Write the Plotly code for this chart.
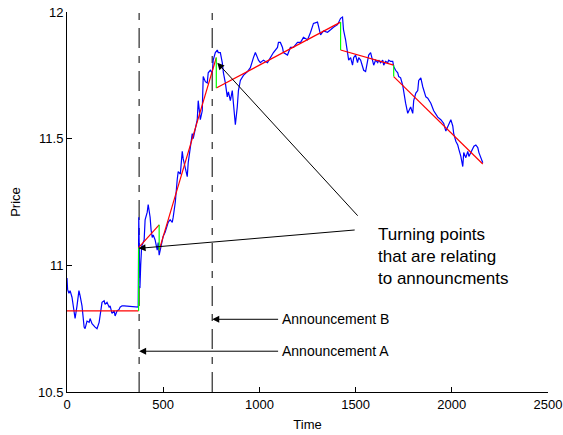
import plotly.graph_objects as go

# ---- price series ----
time = [0, 3, 10, 16, 26, 36, 42, 52, 62, 68, 78, 89, 94, 104, 115, 120, 130, 146, 156, 167,
        172, 182, 193, 198, 208, 219, 224, 234, 245, 250, 260, 271, 276, 286, 297, 370,
        373, 376, 379, 383, 388, 396, 401, 406, 417, 422, 427, 432, 437, 443, 448, 458, 469,
        474, 479, 490, 495, 500, 510, 521, 526, 536, 547, 552,
        563, 573, 578, 589, 599, 604, 615, 625, 630, 641, 651, 656, 667, 677, 682, 693, 703,
        708, 719, 729, 734, 745, 755, 760, 771, 781,
        786, 797, 807, 813, 823, 833, 839, 849, 859, 865, 875, 885, 891, 901, 911, 917, 938,
        953, 969, 979, 990, 995, 1005, 1021, 1042, 1057, 1073, 1094, 1099, 1109, 1120, 1125,
        1146, 1161, 1177, 1198, 1214, 1229, 1250, 1266, 1281, 1302, 1307, 1318, 1333, 1354,
        1370, 1385, 1406, 1422, 1432,
        1437, 1448, 1458, 1464, 1474, 1484, 1490, 1500, 1510, 1516, 1526, 1536, 1542, 1552,
        1563, 1568, 1578, 1589, 1594, 1604, 1615, 1620, 1630, 1641, 1646, 1656, 1667, 1672,
        1682, 1693, 1698, 1708, 1719, 1724, 1734, 1745, 1750, 1760, 1771, 1776, 1786, 1797,
        1802, 1813, 1823, 1828, 1839, 1849, 1854, 1865, 1875, 1891, 1906, 1927, 1943, 1958,
        1969, 1979, 1984, 1995, 2005, 2010, 2021, 2031, 2036, 2047, 2057, 2062, 2073, 2083,
        2089, 2099, 2109, 2115, 2125, 2135, 2141, 2151, 2161]
price = [10.95, 10.905, 10.89, 10.90, 10.874, 10.815, 10.79, 10.84, 10.90, 10.88, 10.84, 10.756,
         10.75, 10.78, 10.775, 10.79, 10.77, 10.756, 10.75, 10.775, 10.80, 10.854, 10.86, 10.846,
         10.854, 10.835, 10.84, 10.81, 10.82, 10.80, 10.82, 10.826, 10.835, 10.84, 10.84, 10.835,
         11.19, 11.07, 10.91, 11.0, 11.075, 11.09, 11.10, 11.18, 11.21, 11.24, 11.22, 11.19,
         11.14, 11.11, 11.12, 11.10, 11.06, 11.09, 11.04, 11.075, 11.095, 11.115, 11.13, 11.155,
         11.17, 11.18, 11.17, 11.19,
         11.25, 11.34, 11.37, 11.36, 11.45, 11.42, 11.38, 11.35, 11.405, 11.47, 11.52, 11.50,
         11.535, 11.575, 11.65, 11.575, 11.61, 11.745, 11.725, 11.72, 11.76, 11.77, 11.76, 11.81,
         11.84, 11.85,
         11.84, 11.84, 11.80, 11.76, 11.72, 11.665, 11.685, 11.65, 11.69, 11.625, 11.555, 11.625,
         11.69, 11.73, 11.745, 11.75, 11.765, 11.78, 11.82, 11.84, 11.82, 11.81, 11.80, 11.81,
         11.80, 11.82, 11.84, 11.86, 11.88, 11.88, 11.86, 11.84, 11.83, 11.86, 11.86, 11.88,
         11.88, 11.90, 11.89, 11.92, 11.955, 11.96, 11.94, 11.91, 11.925, 11.92, 11.93, 11.94,
         11.95, 11.975, 11.98,
         11.93, 11.89, 11.84, 11.81, 11.82, 11.79, 11.82, 11.83, 11.80, 11.82, 11.81, 11.785,
         11.77, 11.765, 11.81, 11.83, 11.84, 11.81, 11.79, 11.81, 11.80, 11.81, 11.80, 11.81,
         11.79, 11.805, 11.80, 11.81, 11.805, 11.805, 11.785, 11.77, 11.76, 11.745, 11.74, 11.71,
         11.68, 11.64, 11.60, 11.61, 11.625, 11.60, 11.65, 11.68, 11.69, 11.73, 11.74, 11.705,
         11.69, 11.665, 11.66, 11.64, 11.61, 11.585, 11.575, 11.56, 11.53, 11.55, 11.56, 11.575,
         11.55, 11.52, 11.49, 11.475, 11.46, 11.43, 11.39, 11.445, 11.425, 11.45, 11.43, 11.445,
         11.46, 11.47, 11.475, 11.465, 11.445, 11.425, 11.405]

# ---- piecewise linear trend segments (start_t, start_p, end_t, end_p) ----
seg_t0 = [0, 372, 479, 776, 1422, 1698]
seg_p0 = [10.82, 11.07, 11.06, 11.70, 11.85, 11.745]
seg_t1 = [372, 479, 776, 1422, 1698, 2161]
seg_p1 = [10.82, 11.16, 11.82, 11.96, 11.79, 11.40]

# ---- announcement times ----
ann_times = [375, 755]
ann_labels = ["Announcement A", "Announcement B"]
ann_levels = [10.661, 10.787]

xticks = [0, 500, 1000, 1500, 2000, 2500]
yticks = [10.5, 11, 11.5, 12]
yticklabels = ["10.5", "11", "11.5", "12"]

FONT = "Liberation Sans, Arial, Helvetica, sans-serif"

fig = go.Figure()

# dash-dot vertical announcement lines
for t in ann_times:
    fig.add_trace(go.Scatter(x=[t, t], y=[yticks[0], yticks[-1]], mode="lines",
                             line=dict(color="#484848", width=1.4, dash="20px,8px,7px,8px"),
                             hoverinfo="skip", showlegend=False))

fig.add_trace(go.Scatter(x=time, y=price, mode="lines",
                         line=dict(color="#0000ff", width=1.2), showlegend=False))

# red trend segments and green jumps
for i in range(len(seg_t0)):
    fig.add_trace(go.Scatter(x=[seg_t0[i], seg_t1[i]], y=[seg_p0[i], seg_p1[i]], mode="lines",
                             line=dict(color="#ff0000", width=1.2), showlegend=False))
for i in range(len(seg_t0) - 1):
    fig.add_trace(go.Scatter(x=[seg_t1[i], seg_t0[i + 1]], y=[seg_p1[i], seg_p0[i + 1]],
                             mode="lines", line=dict(color="#00ff00", width=1.2),
                             showlegend=False))

annotations = []
for t, lab, lev in zip(ann_times, ann_labels, ann_levels):
    annotations.append(dict(x=t, y=lev, ax=1105, ay=lev, xref="x", yref="y",
                            axref="x", ayref="y", showarrow=True, arrowhead=2,
                            arrowsize=1.4, arrowwidth=1, arrowcolor="black", text=""))
    annotations.append(dict(x=1109, y=lev, xref="x", yref="y", text=lab, showarrow=False,
                            xanchor="left", yanchor="middle",
                            font=dict(family=FONT, size=14, color="black")))

# turning point arrows
annotations.append(dict(x=372, y=11.067, ax=1503, ay=11.14, xref="x", yref="y",
                        axref="x", ayref="y", showarrow=True, arrowhead=2, arrowsize=1.4,
                        arrowwidth=1, arrowcolor="black", text=""))
annotations.append(dict(x=781, y=11.80, ax=1518, ay=11.19, xref="x", yref="y",
                        axref="x", ayref="y", showarrow=True, arrowhead=2, arrowsize=1.4,
                        arrowwidth=1, arrowcolor="black", text=""))
annotations.append(dict(x=1604, y=11.035, xref="x", yref="y",
                        text="Turning points<br>that are relating<br>to announcments",
                        showarrow=False, xanchor="left", yanchor="middle", align="left",
                        font=dict(family=FONT, size=17, color="black")))

fig.update_layout(
    width=563, height=435,
    margin=dict(l=67, r=15, t=12, b=43),
    paper_bgcolor="white", plot_bgcolor="white",
    font=dict(family=FONT, size=13, color="black"),
    annotations=annotations,
    xaxis=dict(range=[0, 2500], tickvals=xticks, ticks="inside", ticklen=5,
               tickcolor="black", showline=True, linecolor="black", linewidth=1,
               showgrid=False, zeroline=False, automargin=False,
               title=dict(text="Time", standoff=9, font=dict(size=13)),
               tickfont=dict(size=13)),
    yaxis=dict(range=[10.5, 12], tickvals=yticks, ticktext=yticklabels, ticks="inside",
               ticklen=5, tickcolor="black", showline=True, linecolor="black", linewidth=1,
               showgrid=False, zeroline=False, automargin=False,
               title=dict(text="Price", standoff=14, font=dict(size=13)),
               tickfont=dict(size=13)),
)

fig.write_html("out.html", config={"displayModeBar": False},
               post_script="document.body.style.margin='0';")
